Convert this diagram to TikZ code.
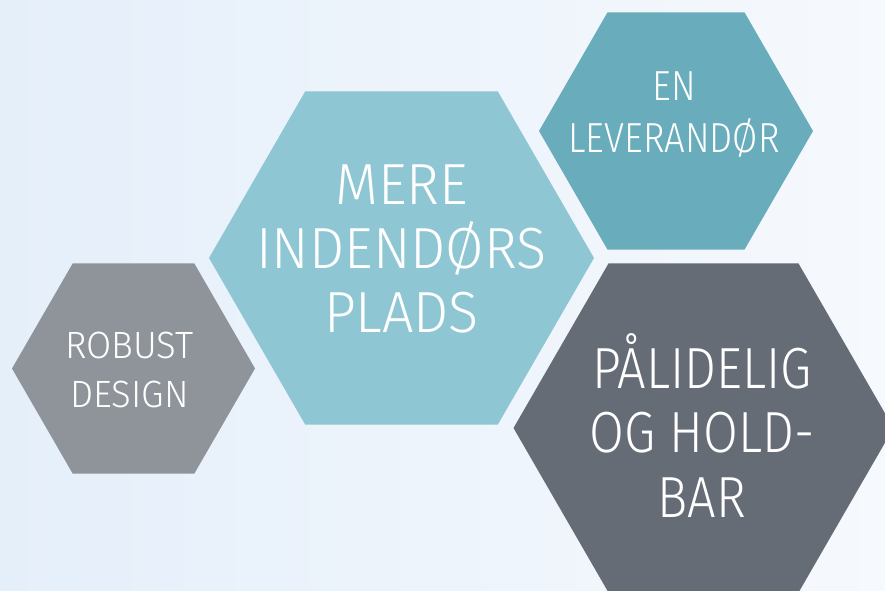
\documentclass[tikz,border=0pt]{standalone}
\usepackage{fontspec}
\setmainfont{Fira Sans Light}[FakeStretch=0.96]
\newfontfamily\narrowfont{Fira Sans Light}[FakeStretch=0.87]
\definecolor{bgleft}{HTML}{E5EFFA}
\definecolor{bgright}{HTML}{F6F9FD}
\definecolor{hexgray}{HTML}{8F949B}
\definecolor{hexlight}{HTML}{8EC7D3}
\definecolor{hexteal}{HTML}{69ADBC}
\definecolor{hexdark}{HTML}{656C76}
\tikzset{
  hexline/.style={text=white, anchor=base, inner sep=0pt},
  smalltxt/.style={hexline, font=\fontsize{38}{38}\selectfont},
  midtxt/.style={hexline, font=\narrowfont\fontsize{42}{42}\selectfont},
  bigtxt/.style={hexline, font=\fontsize{58}{58}\selectfont},
  bignarrow/.style={hexline, font=\narrowfont\fontsize{58}{58}\selectfont}
}
\newcommand{\hexagon}[4]{%
  \fill[#4, shift={(#1,#2)}] (0:#3) -- (60:#3) -- (120:#3) -- (180:#3) -- (240:#3) -- (300:#3) -- cycle;}
\begin{document}
\begin{tikzpicture}[x=1pt,y=-1pt]
\useasboundingbox (0,0) rectangle (885,590);
\shade[left color=bgleft, right color=bgright] (0,0) rectangle (885,590);
\hexagon{133.5}{368.5}{121.5}{hexgray}
\hexagon{401.5}{258}{192.5}{hexlight}
\hexagon{676}{131}{137}{hexteal}
\hexagon{703.5}{428}{190}{hexdark}
% ROBUST DESIGN
\node[smalltxt] (r1) at (129.5,358) {ROBUST};
\node[smalltxt] (r2) at (129.5,407) {DESIGN};
% MERE INDENDORS PLADS
\node[bigtxt] (m1) at (401.5,204) {MERE};
\node[bigtxt] (m2) at (401.5,268) {INDENDØRS};
\node[bigtxt] (m3) at (401.5,332) {PLADS};
% EN LEVERANDOR
\node[midtxt] (e1) at (674,100) {EN};
\node[midtxt] (e2) at (674,152) {LEVERANDØR};
% PALIDELIG OG HOLD-BAR
\node[bignarrow] (p1) at (702,388) {PÅLIDELIG};
\node[bignarrow] (p2) at (702,452) {OG HOLD-};
\node[bignarrow] (p3) at (702,517) {BAR};
\end{tikzpicture}
\end{document}
